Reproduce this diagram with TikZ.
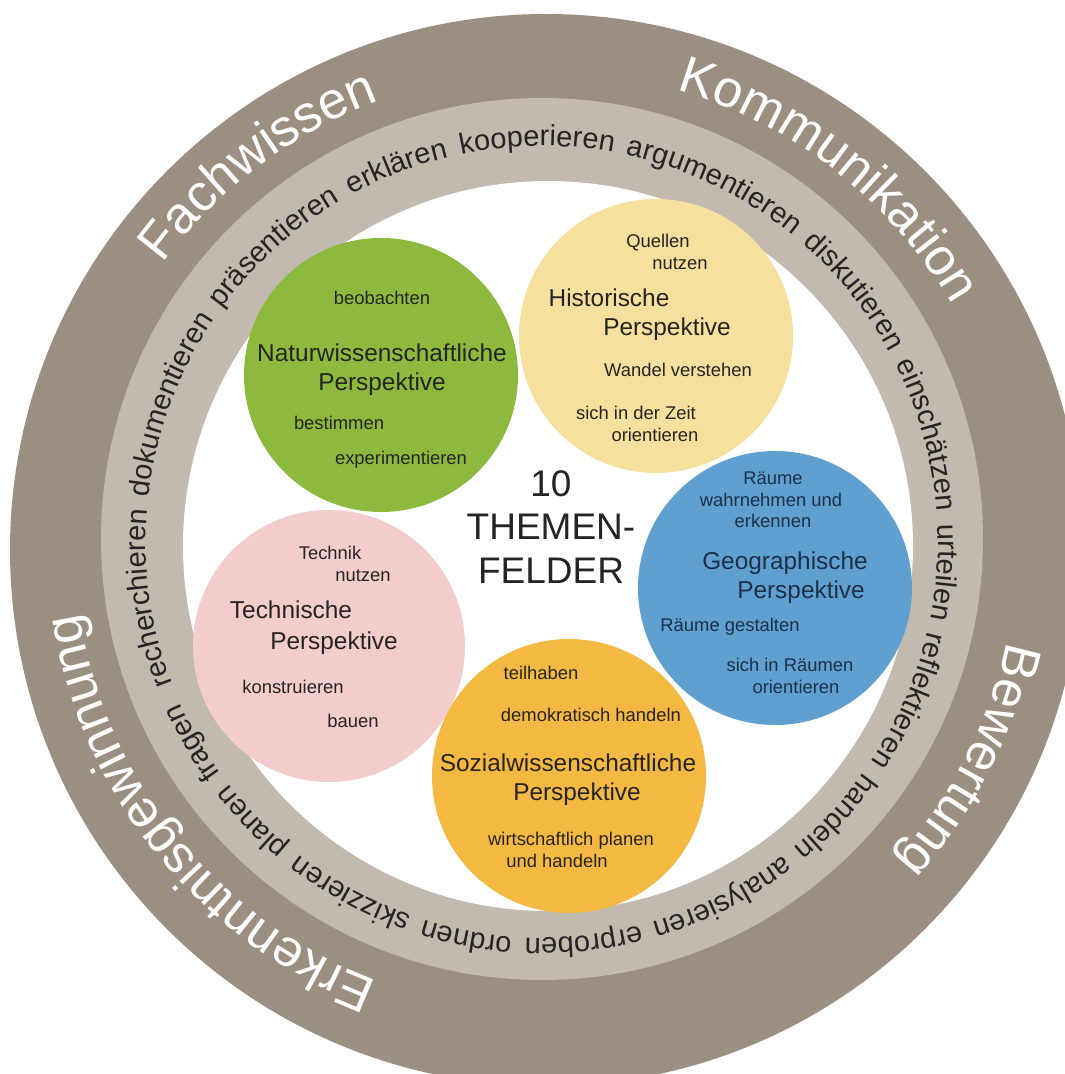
\documentclass[tikz,border=0pt]{standalone}
\usepackage{fontspec}
\setmainfont{Liberation Sans}
\usetikzlibrary{decorations.text}

\definecolor{ringdark}{HTML}{9A8F81}
\definecolor{ringlight}{HTML}{C2B9AF}
\definecolor{natgreen}{HTML}{8DBA3E}
\definecolor{histyellow}{HTML}{F5E09D}
\definecolor{geoblue}{HTML}{60A0D0}
\definecolor{techpink}{HTML}{F3CDCB}
\definecolor{sozorange}{HTML}{F4B943}
\definecolor{txtdark}{HTML}{262422}
\definecolor{txtblue}{HTML}{1C3048}

\newcommand{\ringbig}{\fontsize{52}{52}\selectfont\color{white}}
\newcommand{\ringsmall}{\fontsize{29}{29}\selectfont\color{txtdark}}

\begin{document}
\begin{tikzpicture}[x=1pt, y=1pt,
  disc/.style={circle, inner sep=0pt, minimum size=#1},
  lbl/.style={inner sep=0pt, text=txtdark, font=\fontsize{18.4}{21}\selectfont, text height=13pt, text depth=4pt},
  ttl/.style={inner sep=0pt, text=txtdark, font=\fontsize{24.4}{28}\selectfont, text height=17.5pt, text depth=5pt}]
  \useasboundingbox (0,0) rectangle (1065,1074);
  \clip (0,0) rectangle (1065,1074);

  \fill[ringdark] (546,524) circle (536);
  \fill[ringlight] (542,535) circle (441);
  \fill[white] (548,528) circle (365);

  \path[decorate, decoration={text along path, text align=center, text={|\ringbig|Fachwissen}}]
    (544,530) ++(157:473) arc[start angle=157, end angle=97, radius=473];
  \path[decorate, decoration={text along path, text align=center, text={|\ringbig|Kommunikation}}]
    (544,530) ++(82:473) arc[start angle=82, end angle=22, radius=473];
  \path[decorate, decoration={text along path, text align=center, text={|\ringbig|Bewertung}}]
    (544,530) ++(3:473) arc[start angle=3, end angle=-57, radius=473];
  \path[decorate, decoration={text along path, text align=center, text={|\ringbig|Erkenntnisgewinnung}}]
    (544,532) ++(-106:470) arc[start angle=-106, end angle=-176, radius=470];

  \path[decorate, decoration={text along path, text align={fit to path stretching spaces},
    text={|\ringsmall|recherchieren dokumentieren präsentieren erklären kooperieren argumentieren diskutieren einschätzen urteilen reflektieren handeln analysieren erproben ordnen skizzieren planen fragen}}]
    (542,532) ++(201:396) arc[start angle=201, end angle=-156, radius=396];

  \node[disc=274pt, fill=natgreen] (N) at (381,699) {};
  \node[disc=274pt, fill=histyellow] (H) at (656,738) {};
  \node[disc=274pt, fill=geoblue] (G) at (775,486) {};
  \node[disc=272pt, fill=techpink] (T) at (329,428) {};
  \node[disc=274pt, fill=sozorange] (S) at (569,298) {};

  \node[lbl] (N1) at (382,774) {beobachten};
  \node[ttl] (N2) at (382,719) {Naturwissenschaftliche};
  \node[ttl] (N3) at (382,690) {Perspektive};
  \node[lbl] (N4) at (339,649) {bestimmen};
  \node[lbl] (N5) at (401,614) {experimentieren};

  \node[lbl] (H1) at (658,831) {Quellen};
  \node[lbl] (H2) at (680,809) {nutzen};
  \node[ttl] (H3) at (609,774) {Historische};
  \node[ttl] (H4) at (667,745) {Perspektive};
  \node[lbl] (H5) at (678,702) {Wandel verstehen};
  \node[lbl] (H6) at (636,659) {sich in der Zeit};
  \node[lbl] (H7) at (655,637) {orientieren};

  \node[lbl, text=txtblue] (G1) at (773,594) {Räume};
  \node[lbl, text=txtblue] (G2) at (771,572) {wahrnehmen und};
  \node[lbl, text=txtblue] (G3) at (773,551) {erkennen};
  \node[ttl, text=txtblue] (G4) at (785,511) {Geographische};
  \node[ttl, text=txtblue] (G5) at (801,482) {Perspektive};
  \node[lbl, text=txtblue] (G6) at (730,447) {Räume gestalten};
  \node[lbl, text=txtblue] (G7) at (790,407) {sich in Räumen};
  \node[lbl, text=txtblue] (G8) at (796,385) {orientieren};

  \node[lbl] (T1) at (330,519) {Technik};
  \node[lbl] (T2) at (363,497) {nutzen};
  \node[ttl] (T3) at (291,462) {Technische};
  \node[ttl] (T4) at (334,431) {Perspektive};
  \node[lbl] (T5) at (293,385) {konstruieren};
  \node[lbl] (T6) at (353,351) {bauen};

  \node[lbl] (S1) at (541,399) {teilhaben};
  \node[lbl] (S2) at (591,357) {demokratisch handeln};
  \node[ttl] (S3) at (568,309) {Sozialwissenschaftliche};
  \node[ttl] (S4) at (577,280) {Perspektive};
  \node[lbl] (S5) at (571,233) {wirtschaftlich planen};
  \node[lbl] (S6) at (557,211) {und handeln};

  \node[inner sep=0pt, align=center, text=txtdark, font=\fontsize{37}{43.5}\selectfont] (Z) at (551,547) {10\\THEMEN-\\FELDER};

\end{tikzpicture}
\end{document}
